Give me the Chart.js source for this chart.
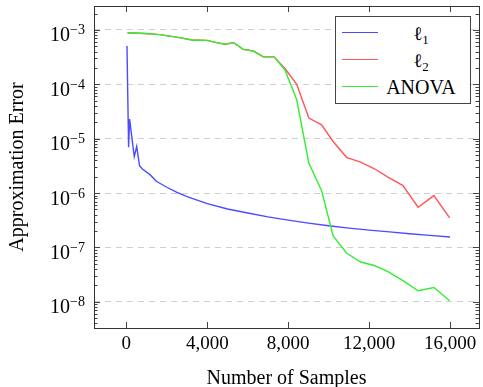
<!DOCTYPE html>
<html lang="en">
<head>
<meta charset="UTF-8">
<title>Approximation Error vs Number of Samples</title>
<script src="https://cdn.jsdelivr.net/npm/chart.js@4.4.1/dist/chart.umd.min.js"></script>
<style>
    html, body { margin: 0; padding: 0; background: #fff; }
    #wrap { position: relative; width: 483px; height: 387px; font-family: "Liberation Serif", serif; color: #000; }
    #legend {
        position: absolute; left: 335px; top: 16px; width: 134px; height: 86px;
        border: 1px solid #444; background: #fff; font-size: 20px;
    }
    .row { position: absolute; left: 0; width: 134px; height: 26px; }
    .swatch { position: absolute; left: 6px; width: 36px; height: 0; border-top: 1.4px solid; top: 12px; }
    .lbl { position: absolute; left: 44px; width: 82px; text-align: center; line-height: 26px; }
    .ell { font-family: "DejaVu Serif", serif; font-size: 19px; font-weight: normal; }
    sub { font-size: 13px; vertical-align: -4px; line-height: 0; }
    .ylab { position: absolute; right: 398px; font-size: 20px; line-height: 20px; white-space: nowrap; }
    .ylab sup { font-size: 14px; vertical-align: 7px; line-height: 0; }
</style>
</head>
<body>
<div id="wrap">
    <canvas id="chart" width="483" height="387"></canvas>
    <div id="legend">
        <div class="row" style="top:3px"><div class="swatch" style="border-color:#4c4cff"></div><div class="lbl"><span class="ell">ℓ</span><sub>1</sub></div></div>
        <div class="row" style="top:30px"><div class="swatch" style="border-color:#ff5555"></div><div class="lbl"><span class="ell">ℓ</span><sub>2</sub></div></div>
        <div class="row" style="top:57px"><div class="swatch" style="border-color:#33ee33"></div><div class="lbl">ANOVA</div></div>
    </div>
</div>
<script>
    // values
    const l1Samples = [30, 110, 160, 390, 510, 650, 780, 1180, 1480, 2000, 2500, 3000, 4000, 5000, 6000, 7000, 8000, 9000, 10000, 11000, 12000, 13000, 14000, 15000, 16000];
    const l1Error = [5.1e-4, 7.0e-6, 2.3e-5, 4.7e-6, 7.2e-6, 3.2e-6, 2.8e-6, 2.16e-6, 1.65e-6, 1.28e-6, 1.03e-6, 8.6e-7, 6.4e-7, 5.1e-7, 4.3e-7, 3.65e-7, 3.18e-7, 2.8e-7, 2.5e-7, 2.27e-7, 2.08e-7, 1.93e-7, 1.79e-7, 1.67e-7, 1.56e-7];

    const samples = [60, 900, 1650, 2550, 3250, 3980, 4470, 4880, 5300, 5780, 6280, 6770, 7300, 7840, 8420, 9020, 9650, 10220, 10880, 11580, 12260, 12930, 13670, 14420, 15200, 15980];
    const l2Error = [8.9e-4, 8.6e-4, 8.2e-4, 7.3e-4, 6.55e-4, 6.45e-4, 5.85e-4, 5.45e-4, 5.85e-4, 4.4e-4, 4.1e-4, 3.2e-4, 3.2e-4, 1.95e-4, 1.0e-4, 2.4e-5, 1.8e-5, 8.9e-6, 4.55e-6, 3.7e-6, 2.8e-6, 1.96e-6, 1.37e-6, 5.5e-7, 9.0e-7, 3.5e-7];
    const anovaError = [8.9e-4, 8.6e-4, 8.2e-4, 7.3e-4, 6.55e-4, 6.45e-4, 5.85e-4, 5.45e-4, 5.85e-4, 4.4e-4, 4.1e-4, 3.2e-4, 3.2e-4, 1.84e-4, 5.2e-5, 3.55e-6, 1.1e-6, 1.63e-7, 7.9e-8, 5.4e-8, 4.65e-8, 3.6e-8, 2.45e-8, 1.6e-8, 1.83e-8, 1.05e-8];

    const xTicks = [0, 4000, 8000, 12000, 16000];
    const yTicks = [1e-8, 1e-7, 1e-6, 1e-5, 1e-4, 1e-3];

    const serif = '"Liberation Serif", serif';

    function pts(xs, ys) {
        return xs.map((x, i) => ({ x: x, y: ys[i] }));
    }

    // pgfplots-like frame with inward ticks
    const framePlugin = {
        id: 'frame',
        afterDatasetsDraw(chart) {
            const { ctx, chartArea: a, scales } = chart;
            ctx.save();
            ctx.strokeStyle = '#444';
            ctx.lineWidth = 1;
            ctx.beginPath();
            xTicks.forEach(v => {
                const px = Math.round(scales.x.getPixelForValue(v)) + 0.5;
                ctx.moveTo(px, a.bottom); ctx.lineTo(px, a.bottom - 6);
                ctx.moveTo(px, a.top); ctx.lineTo(px, a.top + 6);
            });
            for (let e = -9; e <= -3; e++) {
                for (let m = 1; m <= 9; m++) {
                    const v = m * Math.pow(10, e);
                    if (v < scales.y.min || v > scales.y.max) continue;
                    const py = Math.round(scales.y.getPixelForValue(v)) + 0.5;
                    const len = m === 1 ? 6 : 3.5;
                    ctx.moveTo(a.left, py); ctx.lineTo(a.left + len, py);
                    ctx.moveTo(a.right, py); ctx.lineTo(a.right - len, py);
                }
            }
            ctx.stroke();
            ctx.strokeStyle = '#333';
            ctx.strokeRect(Math.round(a.left) + 0.5, Math.round(a.top) + 0.5,
                Math.round(a.right - a.left), Math.round(a.bottom - a.top));
            ctx.restore();
        }
    };

    const chart = new Chart(document.getElementById('chart'), {
        type: 'line',
        data: {
            datasets: [
                { label: 'ANOVA', data: pts(samples, anovaError), borderColor: '#33ee33', order: 0 },
                { label: 'ℓ2', data: pts(samples, l2Error), borderColor: '#ff5555', order: 1 },
                { label: 'ℓ1', data: pts(l1Samples, l1Error), borderColor: '#4c4cff', order: 2 }
            ]
        },
        options: {
            responsive: false,
            animation: false,
            devicePixelRatio: 1,
            layout: { padding: { top: 6, right: 4, left: 0, bottom: 0 } },
            elements: {
                line: { borderWidth: 1.4, tension: 0, fill: false },
                point: { radius: 0 }
            },
            plugins: { legend: { display: false }, tooltip: { enabled: false } },
            scales: {
                x: {
                    type: 'linear',
                    min: -1600,
                    max: 17430,
                    afterBuildTicks: s => { s.ticks = xTicks.map(v => ({ value: v })); },
                    afterFit: s => { s.height = 59; s.paddingLeft = 0; s.paddingRight = 0; },
                    grid: { display: false, drawTicks: false },
                    border: { display: false },
                    ticks: {
                        color: '#000', padding: 5, maxRotation: 0,
                        font: { family: serif, size: 19 },
                        callback: v => v.toLocaleString('en-US')
                    },
                    title: {
                        display: true, text: 'Number of Samples', color: '#000',
                        font: { family: serif, size: 20, lineHeight: 0.8 }, padding: { top: 0, bottom: 0 }
                    }
                },
                y: {
                    type: 'logarithmic',
                    min: 3.3e-9,
                    max: 2.76e-3,
                    bounds: 'data',
                    afterBuildTicks: s => { s.ticks = yTicks.map(v => ({ value: v })); },
                    afterFit: s => { s.width = 94; s.paddingTop = 0; s.paddingBottom = 0; },
                    grid: { color: '#d0d0d0', lineWidth: 1, drawTicks: false },
                    border: { display: false, dash: [6, 5] },
                    ticks: { display: false },
                    title: {
                        display: true, text: 'Approximation Error', color: '#000',
                        font: { family: serif, size: 20 }, padding: { top: 6, bottom: 0 }
                    }
                }
            }
        },
        plugins: [framePlugin]
    });

    // y tick labels as 10 with superscript exponent, placed with the log scale
    const wrap = document.getElementById('wrap');
    yTicks.forEach(v => {
        const py = chart.scales.y.getPixelForValue(v);
        const lab = document.createElement('div');
        lab.className = 'ylab';
        lab.style.top = (py - 5.5) + 'px';
        lab.innerHTML = '10<sup>−' + Math.round(-Math.log10(v)) + '</sup>';
        wrap.appendChild(lab);
    });
</script>
</body>
</html>
